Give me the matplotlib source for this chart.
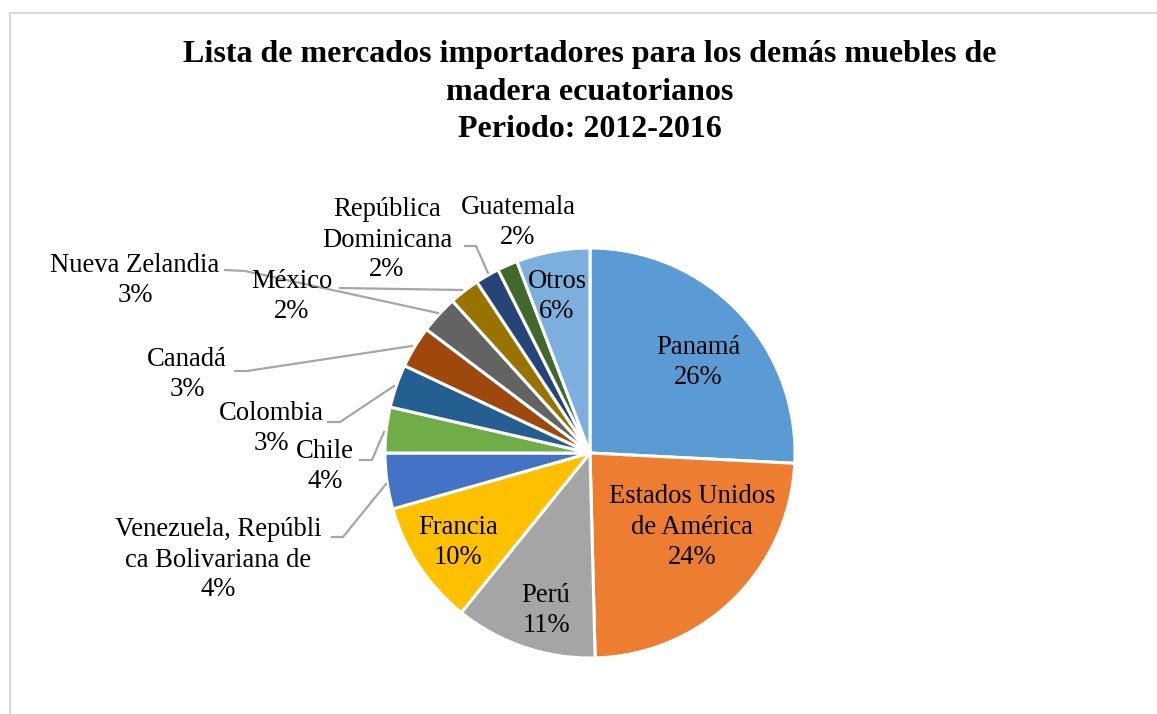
import matplotlib
matplotlib.use("Agg")
import matplotlib.pyplot as plt
from matplotlib.patches import Rectangle

# ---- data ----
categories = ["Panamá", "Estados Unidos\nde América", "Perú", "Francia",
              "Venezuela, Repúbli\nca Bolivariana de", "Chile", "Colombia", "Canadá",
              "Nueva Zelandia", "México", "República\nDominicana", "Guatemala", "Otros"]
shares = [25.8, 23.8, 11.2, 9.8, 4.4, 3.6, 3.4, 3.3, 3.0, 2.4, 1.9, 1.6, 5.8]
colors = ["#5B9BD5", "#ED7D31", "#A5A5A5", "#FFC000", "#4472C4", "#70AD47",
          "#255E91", "#9E480E", "#636363", "#997300", "#264478", "#43682B", "#7CAFDD"]
title = "Lista de mercados importadores para los demás muebles de\nmadera ecuatorianos\nPeriodo: 2012-2016"

W, H = 1157, 714
fig = plt.figure(figsize=(W / 100, H / 100), dpi=100)
ax = fig.add_axes([0, 0, 1, 1])

def py(y):  # pixel y (top-down) -> data y
    return H - y

cx, cy, r = 590, py(453), 205
ax.pie(shares, colors=colors, startangle=90, counterclock=False,
       center=(cx, cy), radius=r,
       wedgeprops=dict(edgecolor="white", linewidth=2.2))
ax.set_xlim(0, W)
ax.set_ylim(0, H)
ax.set_aspect("equal")
ax.axis("off")

# frame
ax.add_patch(Rectangle((10, -10), W + 20, py(13) + 10, fill=False,
                       edgecolor="#D9D9D9", linewidth=1.5))

font = "Liberation Serif"
fs = 19.2
step = 30  # px between label lines

# label centres (pixel coords) per category index
label_pos = {
    0: (698, 362), 1: (692, 527), 2: (546, 610), 3: (458, 543),
    4: (218, 560), 5: (325, 467), 6: (271, 428), 7: (187, 374),
    8: (135, 280), 9: (292, 296), 10: (387, 240), 11: (518, 223), 12: (557, 297),
}
for i, (x, yc) in label_pos.items():
    name = categories[i]
    k = name.count("\n") + 1
    ax.text(x, py(yc - step / 2), name, ha="center", va="center", fontsize=fs,
            family=font, linespacing=1.27, color="black")
    ax.text(x, py(yc + k * step / 2), f"{round(shares[i])}%", ha="center",
            va="center", fontsize=fs, family=font, color="black")

# leader lines (pixel coords)
leaders = {
    4: [(332, 537), (343, 537), (386, 484)],
    5: [(360, 460), (372, 460), (384, 432)],
    6: [(328, 422), (340, 422), (394, 386)],
    7: [(235, 371), (247, 371), (412, 346)],
    8: [(225, 270), (245, 271), (438, 313)],
    9: [(340, 288), (462, 290)],
    10: [(465, 246), (476, 246), (488, 273)],
}
for pts in leaders.values():
    ax.plot([p[0] for p in pts], [py(p[1]) for p in pts], color="#A6A6A6",
            linewidth=1.6, solid_joinstyle="miter")

ax.text(590, py(92), title, ha="center", va="center", fontsize=23,
        family=font, fontweight="bold", linespacing=1.38)

fig.savefig("out.png", dpi=100)
